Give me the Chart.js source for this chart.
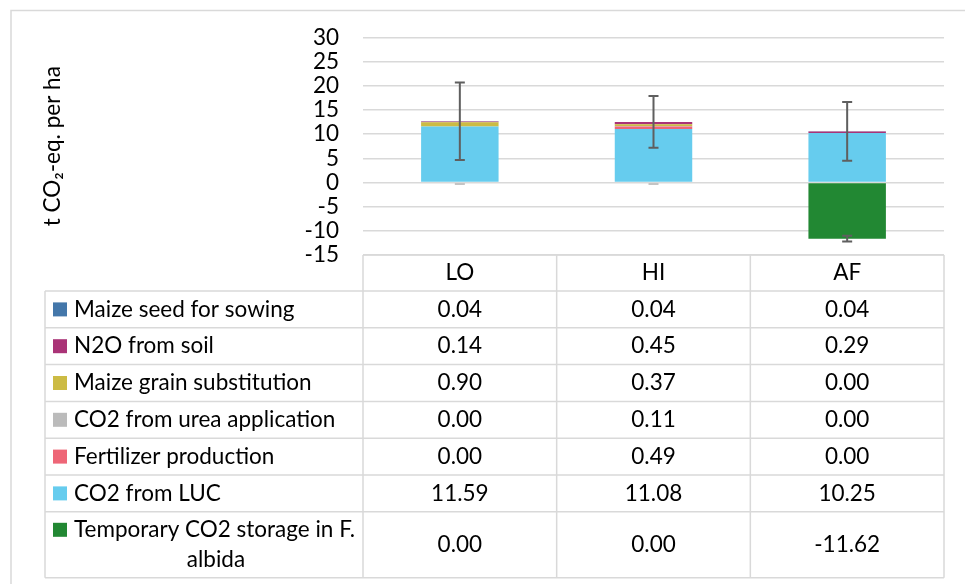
<!DOCTYPE html>
<html>
<head>
<meta charset="utf-8">
<script src="https://cdn.jsdelivr.net/npm/chart.js@4.4.1/dist/chart.umd.min.js"></script>
<style>
  html, body { margin: 0; padding: 0; background: #fff; }
  #wrap { width: 965px; height: 584px; }
</style>
</head>
<body>
<div id="wrap"><canvas id="grafica" width="965" height="584"></canvas></div>
<script>
// Datos de la grafica
const categorias = ["LO", "HI", "AF"];
const series = [
    "Maize seed for sowing",
    "N2O from soil",
    "Maize grain substitution",
    "CO2 from urea application",
    "Fertilizer production",
    "CO2 from LUC",
    "Temporary CO2 storage in F. albida"
];
const colores = ["#4477AA", "#AA3377", "#CCBB44", "#BBBBBB", "#EE6677", "#66CCEE", "#228833"];
const semilla = [0.04, 0.04, 0.04];
const n2oSuelo = [0.14, 0.45, 0.29];
const granoMaiz = [0.90, 0.37, 0.00];
const ureaCO2 = [0.00, 0.11, 0.00];
const fertilizante = [0.00, 0.49, 0.00];
const lucCO2 = [11.59, 11.08, 10.25];
const almacenamiento = [0.00, 0.00, -11.62];
// barras de error (+/-) para la suma positiva y para el almacenamiento
const errorPositivo = [8.0, 5.35, 6.1];
const errorAlmacen = [0.0, 0.0, 0.6];
const ticksY = [-15, -10, -5, 0, 5, 10, 15, 20, 25, 30];

const valores = [semilla, n2oSuelo, granoMaiz, ureaCO2, fertilizante, lucCO2, almacenamiento];
const FUENTE = "Lato";
const TAM = 22.5;

// orden de apilado: de abajo hacia arriba (LUC primero)
const ordenApilado = [5, 4, 3, 2, 1, 0, 6];
const datasets = ordenApilado.map(i => ({
    label: series[i],
    data: valores[i],
    backgroundColor: colores[i],
    borderWidth: 0,
    categoryPercentage: 0.5,
    barPercentage: 0.8
}));

// Barras de error
const pluginErrores = {
    id: "errores",
    afterDatasetsDraw(chart) {
        const ctx = chart.ctx;
        const y = chart.scales.y;
        const x = chart.scales.x;
        ctx.save();
        ctx.lineWidth = 2;
        const dibujar = (px, v, e) => {
            const a = y.getPixelForValue(v + e);
            const b = y.getPixelForValue(v - e);
            // error nulo: solo queda una marquita clara bajo la barra
            ctx.strokeStyle = e === 0 ? "#c4c4c4" : "#5f5f5f";
            ctx.beginPath();
            if (e === 0) {
                ctx.moveTo(px - 5, a + 1.5); ctx.lineTo(px + 5, a + 1.5);
            } else {
                ctx.moveTo(px, a); ctx.lineTo(px, b);
                ctx.moveTo(px - 5, a); ctx.lineTo(px + 5, a);
                ctx.moveTo(px - 5, b); ctx.lineTo(px + 5, b);
            }
            ctx.stroke();
        };
        categorias.forEach((c, j) => {
            const px = x.getPixelForValue(j);
            let suma = 0;
            for (let i = 0; i < 6; i++) suma += valores[i][j];
            dibujar(px, suma, errorPositivo[j]);
            dibujar(px, almacenamiento[j], errorAlmacen[j]);
        });
        ctx.restore();
    }
};

// Tabla de datos bajo la grafica
const pluginTabla = {
    id: "tabla",
    afterDraw(chart) {
        const ctx = chart.ctx;
        const area = chart.chartArea;
        const x = chart.scales.x;
        const anchoCat = area.width / categorias.length;
        const izq = 45;
        const altoCab = 36;
        const altoFila = 36.8;
        const altoUltima = 66;
        ctx.save();

        // marco exterior
        ctx.strokeStyle = "#d9d9d9";
        ctx.lineWidth = 1.5;
        ctx.beginPath();
        ctx.moveTo(11, 584); ctx.lineTo(11, 10.5); ctx.lineTo(965, 10.5);
        ctx.stroke();

        const filasY = [area.bottom, area.bottom + altoCab];
        for (let i = 0; i < series.length; i++) {
            const h = i === series.length - 1 ? altoUltima : altoFila;
            filasY.push(filasY[filasY.length - 1] + h);
        }
        const fondo = filasY[filasY.length - 1];

        // lineas de la tabla
        ctx.beginPath();
        ctx.moveTo(area.left, area.bottom); ctx.lineTo(area.right, area.bottom);
        for (let k = 1; k < filasY.length; k++) {
            ctx.moveTo(izq, filasY[k]); ctx.lineTo(area.right, filasY[k]);
        }
        ctx.moveTo(izq, filasY[1]); ctx.lineTo(izq, fondo);
        for (let j = 0; j <= categorias.length; j++) {
            const px = area.left + j * anchoCat;
            ctx.moveTo(px, area.bottom); ctx.lineTo(px, fondo);
        }
        ctx.stroke();

        ctx.fillStyle = "#000";
        ctx.font = TAM + "px " + FUENTE;
        ctx.textBaseline = "middle";
        ctx.textAlign = "center";
        categorias.forEach((c, j) => {
            ctx.fillText(c, x.getPixelForValue(j), (filasY[0] + filasY[1]) / 2);
        });

        series.forEach((s, i) => {
            const y0 = filasY[i + 1];
            const y1 = filasY[i + 2];
            const ultima = i === series.length - 1;
            const yTexto = ultima ? y0 + 18 : (y0 + y1) / 2;
            ctx.fillStyle = colores[i];
            ctx.fillRect(53, yTexto - 7, 14, 14);
            ctx.fillStyle = "#000";
            ctx.textAlign = "left";
            if (ultima) {
                ctx.fillText("Temporary CO2 storage in F.", 74, yTexto);
                ctx.textAlign = "center";
                ctx.fillText("albida", 216, yTexto + 30);
            } else {
                ctx.fillText(s, 74, yTexto);
            }
            ctx.textAlign = "center";
            categorias.forEach((c, j) => {
                ctx.fillText(valores[i][j].toFixed(2), x.getPixelForValue(j), (y0 + y1) / 2);
            });
        });
        ctx.restore();
    }
};

new Chart(document.getElementById("grafica").getContext("2d"), {
    type: "bar",
    data: { labels: categorias, datasets: datasets },
    plugins: [pluginErrores, pluginTabla],
    options: {
        responsive: false,
        animation: false,
        layout: { padding: { left: 11, right: 21, top: 35, bottom: 329 } },
        plugins: {
            legend: { display: false },
            tooltip: { enabled: false }
        },
        scales: {
            x: {
                stacked: true,
                display: false
            },
            y: {
                stacked: true,
                min: ticksY[0],
                max: ticksY[ticksY.length - 1],
                afterBuildTicks(scale) {
                    scale.ticks = ticksY.map(v => ({ value: v }));
                },
                afterFit(scale) {
                    scale.width = 352;
                },
                ticks: {
                    color: "#000",
                    padding: 24,
                    autoSkip: false,
                    font: { family: FUENTE, size: TAM }
                },
                grid: {
                    color: "#d9d9d9",
                    lineWidth: 1.5,
                    drawTicks: false
                },
                border: { display: false },
                title: {
                    display: true,
                    text: "t CO₂-eq. per ha",
                    color: "#000",
                    font: { family: FUENTE, size: TAM },
                    padding: { top: 28 }
                }
            }
        }
    }
});
</script>
</body>
</html>
